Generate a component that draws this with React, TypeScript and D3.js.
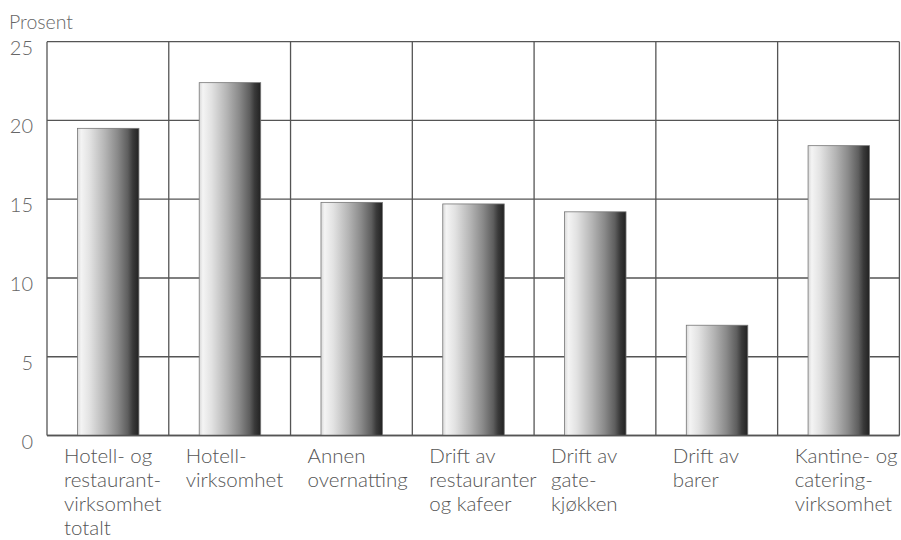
import React from "react";
import * as d3 from "d3";

const categories: string[][] = [
  ["Hotell- og", "restaurant-", "virksomhet", "totalt"],
  ["Hotell-", "virksomhet"],
  ["Annen", "overnatting"],
  ["Drift av", "restauranter", "og kafeer"],
  ["Drift av", "gate-", "kjøkken"],
  ["Drift av", "barer"],
  ["Kantine- og", "catering-", "virksomhet"],
];
const values: number[] = [19.5, 22.4, 14.8, 14.7, 14.2, 7.0, 18.4];
const yTicks: number[] = [0, 5, 10, 15, 20, 25];
const yLabel = "Prosent";

const W = 901;
const H = 540;
const left = 47;
const right = 899.4;
const top = 41.7;
const bottom = 435.5;

const font = "Lato, 'Open Sans', sans-serif";

export default function App() {
  const x = d3
    .scaleBand<number>()
    .domain(values.map((_, i) => i))
    .range([left, right])
    .padding(0);
  const y = d3.scaleLinear().domain([0, 25]).range([bottom, top]);
  const bw = x.bandwidth();
  const gridColor = "#555";

  return (
    <svg
      width={W}
      height={H}
      style={{ position: "absolute", left: 0, top: 0, background: "#fff" }}
    >
      <defs>
        <linearGradient id="barGrad" x1="0" x2="1" y1="0" y2="0">
          <stop offset="0" stopColor="#d8d8d8" />
          <stop offset="0.06" stopColor="#f4f4f4" />
          <stop offset="0.2" stopColor="#e2e2e2" />
          <stop offset="0.45" stopColor="#b4b4b4" />
          <stop offset="0.65" stopColor="#8a8a8a" />
          <stop offset="0.82" stopColor="#5e5e5e" />
          <stop offset="0.9" stopColor="#3a3a3a" />
          <stop offset="1" stopColor="#222" />
        </linearGradient>
      </defs>

      {yTicks.map((t) => (
        <line
          key={"h" + t}
          x1={left}
          x2={right}
          y1={y(t)}
          y2={y(t)}
          stroke={gridColor}
          strokeWidth={1.3}
        />
      ))}
      {values.map((_, i) => (
        <line
          key={"v" + i}
          x1={x(i)!}
          x2={x(i)!}
          y1={top}
          y2={bottom}
          stroke={gridColor}
          strokeWidth={1.3}
        />
      ))}
      <line x1={right} x2={right} y1={top} y2={bottom} stroke={gridColor} strokeWidth={1.3} />

      {values.map((v, i) => {
        const bx = x(i)! + bw * 0.25;
        const bwid = bw * 0.505;
        return (
          <rect
            key={"b" + i}
            x={bx}
            y={y(v)}
            width={bwid}
            height={y(0) - y(v)}
            fill="url(#barGrad)"
            stroke="#777"
            strokeWidth={0.8}
          />
        );
      })}

      <line x1={left} x2={right} y1={y(0)} y2={y(0)} stroke={gridColor} strokeWidth={1.3} />

      {yTicks.map((t) => (
        <text
          key={"t" + t}
          x={33}
          y={y(t) + 13}
          textAnchor="end"
          fontFamily={font}
          fontWeight={300}
          fontSize={20}
          fill="#666"
        >
          {t}
        </text>
      ))}
      <text x={9} y={29} fontFamily={font} fontWeight={300} fontSize={19.5} fill="#666">
        {yLabel}
      </text>

      {categories.map((lines, i) => (
        <text
          key={"c" + i}
          x={x(i)! + 17}
          y={462.5}
          fontFamily={font}
          fontWeight={300}
          fontSize={20.5}
          fill="#555"
        >
          {lines.map((l, j) => (
            <tspan key={j} x={x(i)! + 17} dy={j === 0 ? 0 : 24.3}>
              {l}
            </tspan>
          ))}
        </text>
      ))}
    </svg>
  );
}
